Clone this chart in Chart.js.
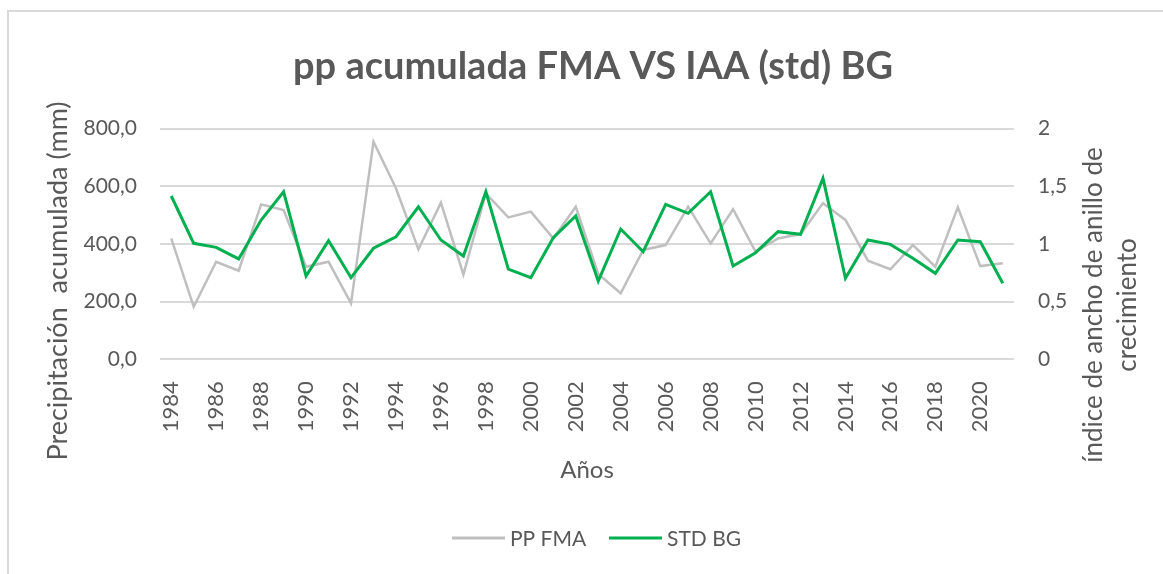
<!DOCTYPE html>
<html>
<head>
<meta charset="utf-8">
<script src="https://cdn.jsdelivr.net/npm/chart.js@4"></script>
<style>
  html, body { margin: 0; padding: 0; background: #fff; }
  #wrap { position: relative; width: 1163px; height: 574px; }
</style>
</head>
<body>
<div id="wrap"><canvas id="ppChart"></canvas></div>
<script>
// años de la serie
const years = [1984, 1985, 1986, 1987, 1988, 1989, 1990, 1991, 1992, 1993,
    1994, 1995, 1996, 1997, 1998, 1999, 2000, 2001, 2002, 2003,
    2004, 2005, 2006, 2007, 2008, 2009, 2010, 2011, 2012, 2013,
    2014, 2015, 2016, 2017, 2018, 2019, 2020, 2021];

// precipitación acumulada feb-mar-abr (mm)
const ppFma = [419, 182, 338, 307, 537, 517, 321, 338, 194, 754,
    593, 381, 543, 294, 575, 492, 512, 419, 529, 296,
    229, 379, 396, 529, 402, 520, 373, 419, 434, 541,
    483, 342, 312, 396, 321, 527, 323, 333];

// índice de ancho de anillo estandarizado
const stdBg = [1.415, 1.005, 0.97, 0.87, 1.207, 1.452, 0.722, 1.028, 0.707, 0.962,
    1.062, 1.322, 1.034, 0.895, 1.452, 0.782, 0.707, 1.054, 1.242, 0.678,
    1.129, 0.932, 1.343, 1.265, 1.452, 0.808, 0.924, 1.106, 1.083, 1.568,
    0.702, 1.034, 0.996, 0.875, 0.745, 1.034, 1.019, 0.659];

const leftTicks = [0, 200, 400, 600, 800];
const rightTicks = [0, 0.5, 1, 1.5, 2];

const TEXT = '#595959';
const GRID = '#d9d9d9';
const GRAY = '#bfbfbf';
const GREEN = '#00b050';
const FONT = "Lato, 'Open Sans', sans-serif";

// titulo, titulos de ejes, leyenda y marco
const decorations = {
    id: 'decorations',
    afterDraw(chart) {
        const ctx = chart.ctx;
        ctx.save();

        // marco (solo arriba e izquierda, como en la captura)
        ctx.strokeStyle = GRID;
        ctx.lineWidth = 2;
        ctx.beginPath();
        ctx.moveTo(8, 574);
        ctx.lineTo(8, 11);
        ctx.lineTo(1163, 11);
        ctx.stroke();

        ctx.fillStyle = TEXT;
        ctx.textAlign = 'center';
        ctx.textBaseline = 'middle';

        ctx.font = 'bold 38px ' + FONT;
        ctx.fillText('pp acumulada FMA VS IAA (std) BG', 593, 67);

        ctx.font = '24px ' + FONT;
        ctx.fillText('Años', 587, 470);

        // eje izquierdo
        ctx.save();
        ctx.translate(58, 281);
        ctx.rotate(-Math.PI / 2);
        ctx.font = '27px ' + FONT;
        ctx.fillText('Precipitación  acumulada (mm)', 0, 0);
        ctx.restore();

        // eje derecho (dos lineas)
        ctx.save();
        ctx.translate(1094, 305);
        ctx.rotate(-Math.PI / 2);
        ctx.font = '26px ' + FONT;
        ctx.fillText('índice de ancho de anillo de', 0, 0);
        ctx.fillText('crecimiento', 0, 34);
        ctx.restore();

        // leyenda
        ctx.font = '21px ' + FONT;
        ctx.textAlign = 'left';
        const items = [
            { label: 'PP FMA', color: GRAY, x: 452 },
            { label: 'STD BG', color: GREEN, x: 609 }
        ];
        items.forEach(it => {
            ctx.strokeStyle = it.color;
            ctx.lineWidth = 3;
            ctx.beginPath();
            ctx.moveTo(it.x, 538);
            ctx.lineTo(it.x + 53, 538);
            ctx.stroke();
            ctx.fillStyle = TEXT;
            ctx.fillText(it.label, it.x + 58, 539);
        });

        ctx.restore();
    }
};

document.addEventListener('DOMContentLoaded', () => {
    const ctx = document.getElementById('ppChart');

    new Chart(ctx, {
        type: 'line',
        data: {
            labels: years,
            datasets: [{
                label: 'PP FMA',
                data: ppFma,
                yAxisID: 'y',
                borderColor: GRAY,
                backgroundColor: GRAY,
                borderWidth: 2.5,
                pointRadius: 0,
                tension: 0,
                order: 2
            }, {
                label: 'STD BG',
                data: stdBg,
                yAxisID: 'y1',
                borderColor: GREEN,
                backgroundColor: GREEN,
                borderWidth: 3,
                pointRadius: 0,
                tension: 0,
                order: 1
            }]
        },
        options: {
            responsive: true,
            maintainAspectRatio: false,
            animation: false,
            layout: {
                padding: { left: 75, right: 89, top: 128.5, bottom: 134.7 }
            },
            scales: {
                x: {
                    offset: true,
                    grid: { display: false },
                    border: { display: false },
                    ticks: {
                        autoSkip: false,
                        minRotation: 90,
                        maxRotation: 90,
                        padding: 14,
                        color: TEXT,
                        font: { family: FONT, size: 22 },
                        callback: (v, i) => (i % 2 === 0 ? String(years[i]) : '')
                    },
                    afterFit: s => { s.height = 80; }
                },
                y: {
                    position: 'left',
                    min: leftTicks[0],
                    max: leftTicks[leftTicks.length - 1],
                    grid: { color: GRID, lineWidth: 2, drawTicks: false },
                    border: { display: false },
                    ticks: {
                        stepSize: 200,
                        padding: 23,
                        color: TEXT,
                        font: { family: FONT, size: 21 },
                        callback: v => v.toFixed(1).replace('.', ',')
                    },
                    afterFit: s => { s.width = 85; }
                },
                y1: {
                    position: 'right',
                    min: rightTicks[0],
                    max: rightTicks[rightTicks.length - 1],
                    grid: { display: false, drawTicks: false },
                    border: { display: false },
                    ticks: {
                        stepSize: 0.5,
                        padding: 24,
                        color: TEXT,
                        font: { family: FONT, size: 21 },
                        callback: v => String(v).replace('.', ',')
                    },
                    afterFit: s => { s.width = 60; }
                }
            },
            plugins: {
                legend: { display: false },
                tooltip: { enabled: false }
            }
        },
        plugins: [decorations]
    });
});
</script>
</body>
</html>
